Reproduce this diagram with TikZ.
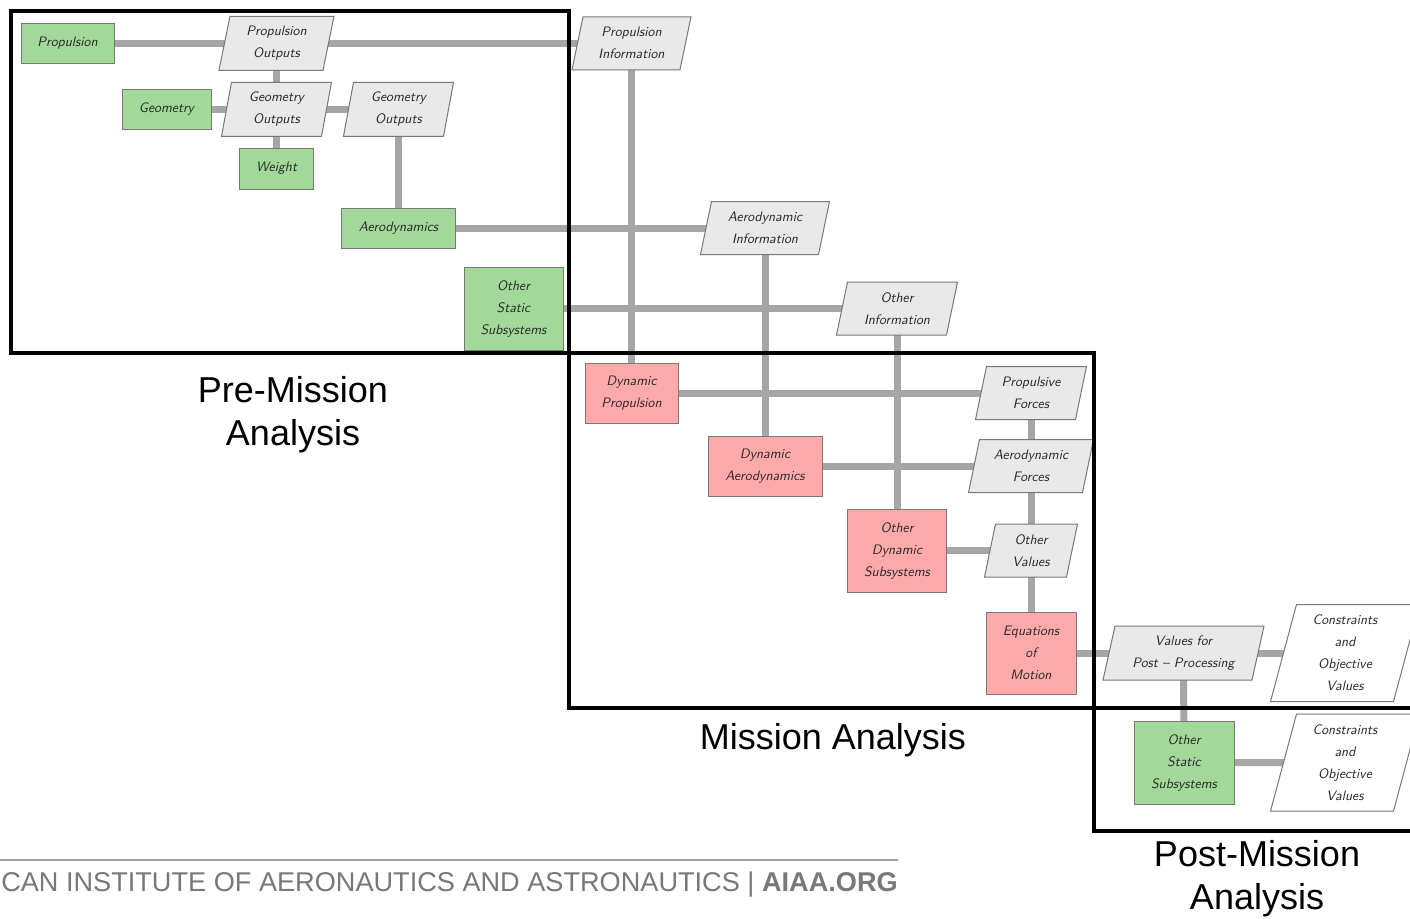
\documentclass[tikz,border=0pt]{standalone}
\usepackage{fontspec}
\newfontfamily\arialfont{Liberation Sans}
\usetikzlibrary{backgrounds}
\definecolor{boxgreen}{RGB}{162,217,153}
\definecolor{boxred}{RGB}{255,170,170}
\definecolor{paragray}{RGB}{233,233,233}
\definecolor{linegray}{RGB}{166,166,166}
\definecolor{bordergray}{RGB}{120,120,120}
\definecolor{txtgray}{RGB}{40,40,40}
\definecolor{footgray}{RGB}{120,120,120}
\tikzset{
  lbl/.style={font=\fontsize{10.3}{16.5}\selectfont\sffamily\itshape, text=txtgray, align=center, inner sep=0pt},
  sysbox/.style={lbl, draw=bordergray, fill=boxgreen, line width=0.75pt},
  dynbox/.style={lbl, draw=bordergray, fill=boxred, line width=0.75pt},
  parafill/.style={draw=bordergray, fill=paragray, line width=0.75pt},
  outfill/.style={draw=bordergray, fill=white, line width=0.75pt},
  conn/.style={draw=linegray, line width=5.25pt},
  frame/.style={draw=black, line width=3pt},
  big/.style={font=\arialfont\fontsize{27}{32.5}\selectfont, align=center, inner sep=0pt},
}
% #1 style, #2 name, #3 x, #4 y, #5 width, #6 height, #7 text
\newcommand\boxnode[7]{\node[#1, minimum width={#5*0.75pt}, minimum height={#6*0.75pt}] (#2) at (#3,#4) {#7};}
% #1 style, #2 name, #3 x, #4 y, #5 half width, #6 half height, #7 half slant, #8 text
\newcommand\paranode[8]{%
  \filldraw[#1] ({#3-#5-#7},{#4+#6}) -- ({#3+#5-#7},{#4+#6}) -- ({#3+#5+#7},{#4-#6}) -- ({#3-#5+#7},{#4-#6}) -- cycle;
  \node[lbl] (#2) at (#3,#4) {#8};}
\begin{document}
\begin{tikzpicture}[x=0.75pt, y=-0.75pt]
\useasboundingbox (0,0) rectangle (1410,918);
\begin{scope}[on background layer]
\fill[white] (0,0) rectangle (1410,918);
\end{scope}
\clip (0,0) rectangle (1410,918);

% green static boxes
\boxnode{sysbox}{prop}{67.5}{43.3}{93}{40}{Propulsion}
\boxnode{sysbox}{geom}{166.5}{109.3}{89}{40}{Geometry}
\boxnode{sysbox}{weight}{276.5}{168.5}{74}{41}{Weight}
\boxnode{sysbox}{aero}{398.5}{228}{114}{40}{Aerodynamics}
\boxnode{sysbox}{oss}{513.5}{308.5}{99}{83}{Other\\Static\\Subsystems}
\boxnode{sysbox}{osspost}{1184}{762.5}{100}{83}{Other\\Static\\Subsystems}

% red dynamic boxes
\boxnode{dynbox}{dynprop}{631.5}{393}{93}{60}{Dynamic\\Propulsion}
\boxnode{dynbox}{dynaero}{765}{466}{114}{60}{Dynamic\\Aerodynamics}
\boxnode{dynbox}{ods}{897}{550.5}{99}{83}{Other\\Dynamic\\Subsystems}
\boxnode{dynbox}{eom}{1031}{653}{90}{82}{Equations\\of\\Motion}

% data parallelograms
\paranode{parafill}{propout}{276.5}{43.3}{52}{27}{5.5}{Propulsion\\Outputs}
\paranode{parafill}{propinfo}{631.5}{43.3}{54}{26.5}{5.5}{Propulsion\\Information}
\paranode{parafill}{geoout1}{276.5}{109.3}{50}{27}{5}{Geometry\\Outputs}
\paranode{parafill}{geoout2}{398.5}{109.3}{50}{27}{5}{Geometry\\Outputs}
\paranode{parafill}{aeroinfo}{765}{228}{59}{26.5}{5.5}{Aerodynamic\\Information}
\paranode{parafill}{othinfo}{897}{308.5}{55}{26.5}{5.5}{Other\\Information}
\paranode{parafill}{propforces}{1031}{393}{50}{26.5}{5.5}{Propulsive\\Forces}
\paranode{parafill}{aeroforces}{1031}{466}{57}{26.5}{5.5}{Aerodynamic\\Forces}
\paranode{parafill}{othvalues}{1031}{550.5}{41}{26.5}{5.5}{Other\\Values}
\paranode{parafill}{valpost}{1183.5}{653}{74.5}{27}{6}{Values for\\Post -- Processing}
\paranode{outfill}{cons1}{1345}{653}{61.5}{48.5}{13}{Constraints\\and\\Objective\\Values}
\paranode{outfill}{cons2}{1345}{762.5}{61.5}{48.5}{13}{Constraints\\and\\Objective\\Values}

% connectors
\begin{scope}[on background layer]
\draw[conn] (prop.center) -- (propout.center) -- (propinfo.center);
\draw[conn] (propout.center) -- (geoout1.center) -- (weight.center);
\draw[conn] (geom.center) -- (geoout1.center) -- (geoout2.center) -- (aero.center);
\draw[conn] (aero.center) -- (aeroinfo.center);
\draw[conn] (oss.center) -- (othinfo.center);
\draw[conn] (propinfo.center) -- (dynprop.center);
\draw[conn] (aeroinfo.center) -- (dynaero.center);
\draw[conn] (othinfo.center) -- (ods.center);
\draw[conn] (dynprop.center) -- (propforces.center);
\draw[conn] (dynaero.center) -- (aeroforces.center);
\draw[conn] (ods.center) -- (othvalues.center);
\draw[conn] (propforces.center) -- (aeroforces.center) -- (othvalues.center) -- (eom.center);
\draw[conn] (eom.center) -- (valpost.center) -- (cons1.center);
\draw[conn] (valpost.center) -- (osspost.center) -- (cons2.center);
\end{scope}

% analysis frames
\draw[frame] (11,11) rectangle (569,353);
\draw[frame] (569,353) rectangle (1094,708);
\draw[frame] (1094,708) rectangle (1425,831);

% frame labels
\node[big] (lpre) at (293,414.5) {Pre-Mission\\Analysis};
\node[big] (lmis) at (833,740) {Mission Analysis};
\node[big] (lpost) at (1257,879) {Post-Mission\\Analysis};

% footer
\draw[draw=footgray!70, line width=1.5pt] (0,860) -- (898,860);
\node[anchor=base east, inner sep=0pt, text=footgray, font=\arialfont\fontsize{20.35}{24}\selectfont] (foot) at (898,891) {CAN INSTITUTE OF AERONAUTICS AND ASTRONAUTICS | \textbf{AIAA.ORG}};
\end{tikzpicture}
\end{document}
